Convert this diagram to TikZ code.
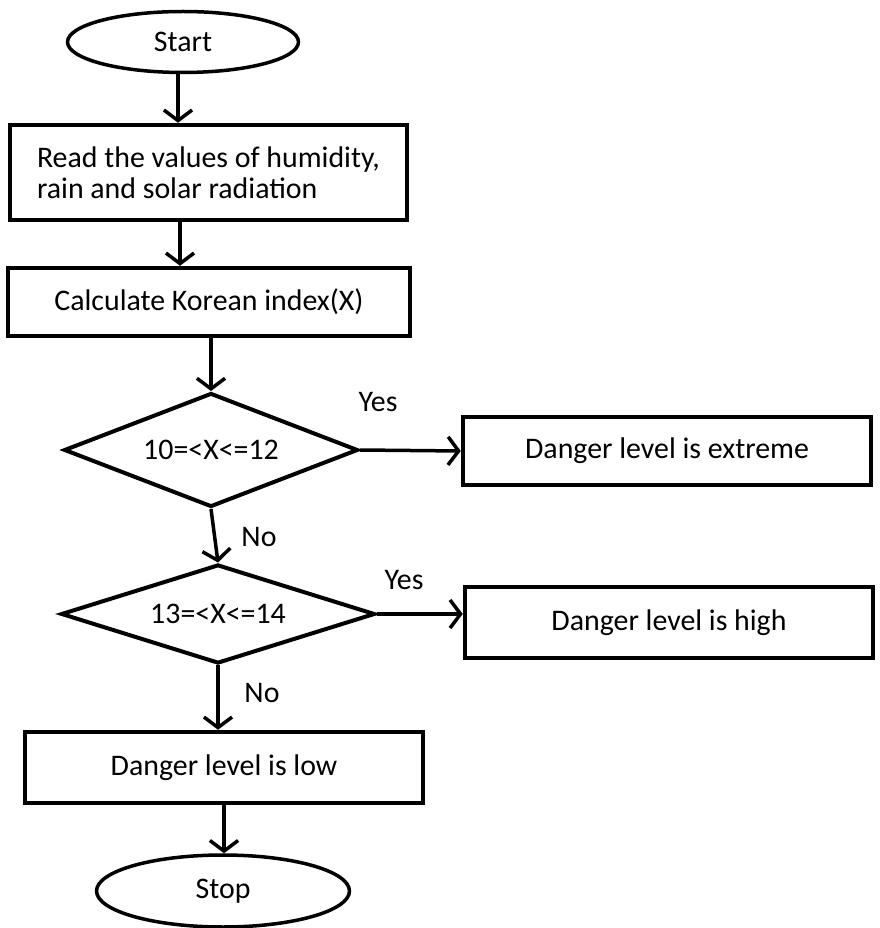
\documentclass[tikz,border=0pt]{standalone}
\usepackage{fontspec}
\setmainfont{Carlito}
\usetikzlibrary{shapes.geometric, arrows.meta}
\tikzstyle{pixelGrid} = [x = 0.02cm, y = -0.02cm]
\tikzstyle{boxStyle} = [draw, rectangle, line width = 0.09cm, inner sep = 0pt, align = center]
\tikzstyle{terminalStyle} = [draw, ellipse, line width = 0.07cm, inner sep = 0pt]
\tikzstyle{decisionStyle} = [draw, diamond, aspect = 2.6, line width = 0.08cm, inner sep = 0pt]
\tikzstyle{arrowLine} = [line width = 0.07cm, -{Straight Barb[length = 6pt, width = 16pt]}]
\tikzstyle{branchText} = [inner sep = 0pt]
\newcommand{\flowText}{\fontsize{17}{17.6}\selectfont}
\newcommand{\flowArrow}[2]{\draw [arrowLine] (#1) -- (#2);}

\begin{document}
\begin{tikzpicture}[pixelGrid, font = \flowText]
        \useasboundingbox (0, 0) rectangle (879, 928);

        % terminals and steps
        \node [terminalStyle, minimum width = 4.62cm, minimum height = 1.22cm] (startNode) at (183, 42) {Start};
        \node [boxStyle, minimum width = 7.94cm, minimum height = 1.90cm, align = left] (readValues) at (208.5, 172.5) {Read the values of humidity,\\rain and solar radiation};
        \node [boxStyle, minimum width = 8.04cm, minimum height = 1.36cm] (calcIndex) at (209, 302) {Calculate Korean index(X)};
        \node [decisionStyle, minimum width = 5.88cm, minimum height = 2.28cm] (rangeOne) at (211, 450) {10=<X<=12};
        \node [boxStyle, minimum width = 8.16cm, minimum height = 1.36cm] (extremeLevel) at (667, 451) {Danger level is extreme};
        \node [decisionStyle, minimum width = 6.28cm, minimum height = 1.98cm] (rangeTwo) at (218, 614) {13=<X<=14};
        \node [boxStyle, minimum width = 8.16cm, minimum height = 1.42cm] (highLevel) at (669, 622.5) {Danger level is high};
        \node [boxStyle, minimum width = 7.96cm, minimum height = 1.42cm] (lowLevel) at (224, 767.5) {Danger level is low};
        \node [terminalStyle, minimum width = 5.06cm, minimum height = 1.44cm] (stopNode) at (223, 891) {Stop};

        % branch labels
        \node [branchText] (yesOne) at (378, 402) {Yes};
        \node [branchText] (yesTwo) at (404, 580) {Yes};
        \node [branchText] (noOne) at (259, 537) {No};
        \node [branchText] (noTwo) at (262, 693) {No};

        % connectors
        \draw [arrowLine] ([xshift = -0.1cm] startNode.south) -- ([xshift = -0.1cm] startNode.south |- readValues.north);
        \draw [arrowLine] ([xshift = -0.06cm] startNode.south |- readValues.south) -- ([xshift = -0.06cm] startNode.south |- calcIndex.north);
        \draw [arrowLine] (calcIndex.south -| rangeOne.north) -- (rangeOne.north);
        \flowArrow{rangeOne.east}{extremeLevel.west}
        \flowArrow{rangeOne.south}{rangeTwo.north}
        \flowArrow{rangeTwo.east}{rangeTwo.east -| highLevel.west}
        \draw [arrowLine] (rangeTwo.south) -- (rangeTwo.south |- lowLevel.north);
        \flowArrow{lowLevel.south}{lowLevel.south |- stopNode.north}
\end{tikzpicture}
\end{document}
